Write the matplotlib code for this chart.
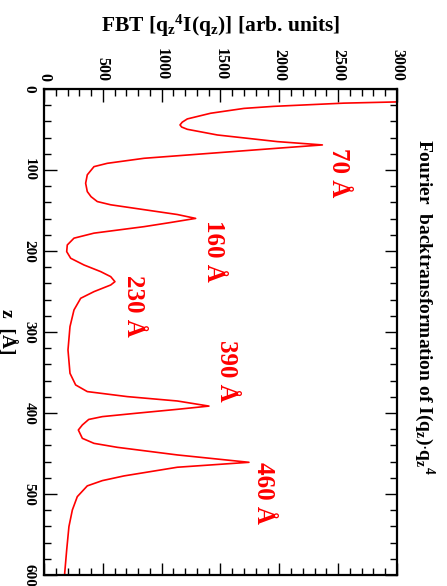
import matplotlib
matplotlib.use("Agg")
import matplotlib.pyplot as plt
from matplotlib.ticker import MultipleLocator

plt.rcParams['font.family'] = ['Liberation Serif', 'DejaVu Serif']
plt.rcParams['font.weight'] = 'bold'
plt.rcParams['mathtext.fontset'] = 'custom'
plt.rcParams['mathtext.rm'] = 'Liberation Serif:bold'
plt.rcParams['mathtext.it'] = 'Liberation Serif:bold'
plt.rcParams['mathtext.bf'] = 'Liberation Serif:bold'
plt.rcParams['mathtext.default'] = 'rm'

# data: depth z [Å] and Fourier back-transform amplitude
z = [13, 16, 17.5, 21.5, 24, 30, 37, 41, 44.4, 47, 49.8, 56.8, 65, 69.1, 73.2, 79.4,
     85.6, 91.8, 95.9, 106, 116.4, 126.7, 133, 139, 143, 149, 155, 159.8, 165, 170,
     178, 184.2, 192.6, 200.8, 209, 217.3, 225.5, 231.7, 237.9, 242, 250.2, 258.4,
     272.8, 293.4, 322.2, 351, 365.4, 373.6, 379.8, 385.2, 391.5, 395.5, 400.4, 404.5,
     408, 414.8, 421, 431.3, 437.5, 442.4, 451.8, 460.9, 467, 477.7, 483.5, 490,
     503.3, 519.8, 540.3, 569, 597.8, 600]
fbt = [4200, 3000, 2550, 1950, 1700, 1416, 1218, 1175, 1156, 1170, 1218, 1473, 1983, 2366, 1983, 1416,
       850, 538, 425, 368, 354, 368, 400, 453, 567, 850, 1133, 1289, 1070, 850,
       425, 255, 198, 193, 227, 340, 482, 567, 603, 567, 425, 312,
       255, 221, 204, 221, 269, 368, 708, 1133, 1402, 1133, 780, 496,
       380, 326, 292, 326, 425, 623, 1133, 1742, 1133, 680, 496, 368,
       283, 241, 212, 193, 176, 176]

peak_labels = ["70 Å", "160 Å", "230 Å", "390 Å", "460 Å"]
label_fbt = [2405, 1343, 660, 1453, 1768]
label_z = [72.8, 161.7, 229.6, 310, 460.5]

fig = plt.figure(figsize=(4.47, 5.86), dpi=100)
ax = fig.add_axes([0.0984, 0.0188, 0.7897, 0.8294])

ax.plot(fbt, z, color='#ff0000', lw=1.2, clip_on=True)
ax.set_xlim(0, 3000)
ax.set_ylim(600, 0)

ax.xaxis.tick_top()
ax.xaxis.set_label_position('top')
ax.xaxis.set_major_locator(MultipleLocator(500))
ax.xaxis.set_minor_locator(MultipleLocator(100))
ax.yaxis.set_major_locator(MultipleLocator(100))
ax.yaxis.set_minor_locator(MultipleLocator(20))
ax.tick_params(which='both', direction='in', top=True, bottom=True, left=True, right=True,
               labeltop=True, labelbottom=False, labelleft=True, labelright=False, width=1.0)
ax.tick_params(which='major', length=9)
ax.tick_params(which='minor', length=5)
ax.tick_params(axis='x', which='major', labelsize=11.5, pad=6, labelrotation=-90)
ax.tick_params(axis='y', which='major', labelsize=11, pad=6, labelrotation=-90)
for lab in ax.get_yticklabels():
    lab.set_va('center')
for s in ax.spines.values():
    s.set_linewidth(1.6)

ax.set_xlabel(r"FBT [q$_z$$^4$I(q$_z$)] [arb. units]", fontsize=15.5, fontweight='bold', labelpad=12)
ax.set_ylabel(r"z  [Å]", fontsize=14, fontweight='bold', rotation=-90, va='center', ha='center')
ax.yaxis.set_label_coords(-0.102, 0.5)

fig.text(0.948, 0.476, r"Fourier  backtransformation of I(q$_z$)$\cdot$q$_z$$^4$", rotation=-90,
         fontsize=14, fontweight='bold', ha='center', va='center')

for t, fx, zz in zip(peak_labels, label_fbt, label_z):
    ax.text(fx, zz, t, rotation=-90, color='#ff0000', fontsize=18, fontweight='bold',
            ha='left', va='top')

fig.savefig("out.png", dpi=100)
